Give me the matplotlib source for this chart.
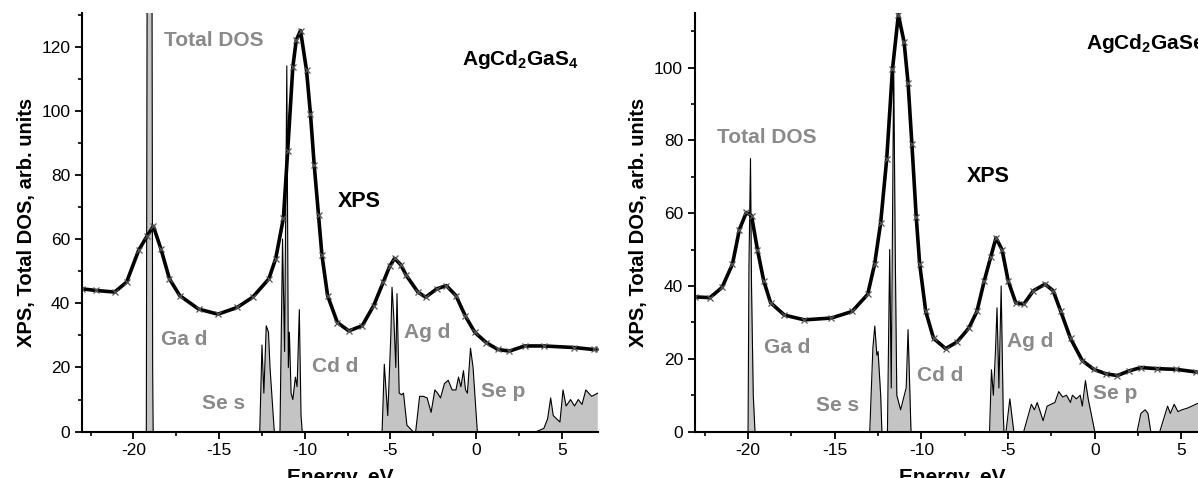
import numpy as np
import matplotlib
matplotlib.use('Agg')
import matplotlib.pyplot as plt
from matplotlib.ticker import MultipleLocator

plt.rcParams['font.family'] = ['Liberation Sans', 'DejaVu Sans']
plt.rcParams['mathtext.fontset'] = 'custom'
plt.rcParams['mathtext.bf'] = 'Liberation Sans:bold'
plt.rcParams['mathtext.rm'] = 'Liberation Sans:bold'
plt.rcParams['mathtext.default'] = 'bf'
plt.rcParams['axes.unicode_minus'] = False

# ---- AgCd2GaS4 (left panel) ----
s_xps_e = [-23.0, -22.2, -21.1, -20.4, -19.7, -19.2, -18.84, -18.4, -17.9, -17.3, -16.2, -15.07,
           -13.95, -13.04, -12.1, -11.7, -11.25, -11.0, -10.7, -10.5, -10.25, -9.9, -9.67, -9.45,
           -9.2, -9.0, -8.67, -8.1, -7.43, -6.65, -5.98, -5.42, -5.05, -4.76, -4.4, -4.08, -3.4,
           -2.95, -2.3, -1.74, -1.18, -0.63, -0.07, 0.6, 1.27, 1.94, 2.83, 3.95, 5.74, 6.85, 7.1]
s_xps_i = [44.5, 44.0, 43.5, 46.6, 56.5, 61.0, 64.0, 57.0, 47.6, 42.4, 38.2, 36.6,
           38.7, 41.9, 47.6, 53.9, 66.5, 87.4, 113.6, 122.0, 125.0, 112.6, 99.0, 83.0,
           67.5, 55.0, 42.4, 34.0, 31.4, 33.0, 39.3, 46.6, 51.5, 54.0, 52.0, 48.7, 43.5,
           41.9, 44.5, 45.5, 42.4, 36.0, 30.9, 27.7, 25.6, 25.1, 26.7, 26.7, 26.2, 25.6, 25.6]

s_dos_e = [-23.0, -19.25, -19.2, -18.92, -18.88, -18.85,
           -12.63, -12.5, -12.39, -12.25, -12.12, -12.03, -11.78,
           -11.45, -11.3, -11.18, -11.05, -10.96, -10.9, -10.8, -10.7, -10.55, -10.45, -10.32, -10.22, -10.15,
           -5.49, -5.36, -5.16, -4.98, -4.91, -4.8, -4.69, -4.62, -4.49, -4.35, -4.24, -4.04, -3.68,
           -3.53, -3.3, -3.08, -2.86, -2.63, -2.41, -2.25, -2.08, -1.85, -1.63, -1.4, -1.18, -1.03,
           -0.89, -0.74, -0.62, -0.51, -0.33, -0.18, 0.07,
           3.5, 3.95, 4.17, 4.35, 4.5, 4.89, 5.07, 5.25, 5.51, 5.74, 5.96, 6.18, 6.4, 6.74, 7.1]
s_dos_i = [0, 0, 150, 150, 20, 0,
           0, 27, 12, 33, 31, 20, 0,
           0, 60, 25, 114, 20, 31, 12, 10, 17, 14, 38, 5, 0,
           0, 21, 5, 30, 45, 35, 20, 43, 12, 11.5, 12, 2, 0,
           0, 11, 11, 10.5, 6, 13, 12, 10.5, 15, 16, 13, 13, 17,
           14, 19, 13, 12, 26, 20, 0,
           0, 1, 4, 10.5, 5, 3, 13, 8, 10, 8, 10, 8.5, 13, 11, 12]

# ---- AgCd2GaSe4 (right panel) ----
se_xps_e = [-23.07, -22.2, -21.5, -20.9, -20.5, -20.1, -19.8, -19.46, -19.1, -18.7, -17.9, -16.75,
            -15.2, -14.0, -13.1, -12.7, -12.35, -12.0, -11.67, -11.33, -11.0, -10.77, -10.55, -10.3,
            -10.1, -9.75, -9.3, -8.6, -7.95, -7.27, -6.8, -6.37, -6.0, -5.7, -5.35, -5.0, -4.56,
            -4.1, -3.54, -2.87, -2.4, -1.96, -1.4, -0.72, -0.05, 0.63, 1.3, 1.99, 2.66, 3.57,
            4.7, 5.82, 6.68]
se_xps_i = [37.0, 36.8, 39.6, 46.0, 55.5, 60.2, 59.3, 50.0, 41.5, 35.4, 32.0, 30.7,
            31.2, 33.0, 37.7, 46.0, 57.4, 75.0, 99.5, 114.5, 107.0, 95.8, 79.0, 59.0,
            46.0, 33.0, 25.6, 22.8, 24.6, 28.4, 33.0, 41.5, 48.0, 53.2, 50.0, 41.5, 35.4,
            35.0, 38.7, 40.5, 38.7, 33.0, 25.6, 19.5, 17.1, 15.9, 15.4, 16.7, 17.6, 17.3,
            17.1, 16.4, 15.7]

se_dos_e = [-23.07, -20.0, -19.95, -19.86, -19.8, -19.7, -19.6,
            -12.98, -12.8, -12.69, -12.57, -12.5, -12.35, -12.28,
            -11.96, -11.83, -11.74, -11.6, -11.5, -11.42, -11.2, -10.88, -10.77, -10.6,
            -6.07, -5.96, -5.85, -5.73, -5.64, -5.53, -5.4, -5.28, -5.24,
            -5.12, -4.9, -4.67,
            -4.1, -3.66, -3.48, -3.32, -2.98, -2.75, -2.53, -2.3, -2.08, -1.85, -1.63, -1.4,
            -1.29, -1.06, -0.84, -0.72, -0.54, -0.38, 0.0,
            2.44, 2.66, 2.9, 3.07, 3.23, 3.75, 4.2, 4.36, 4.58, 4.8, 5.03, 5.37, 5.6, 6.05, 6.68]
se_dos_i = [0, 0, 45, 75, 40, 10, 0,
            0, 23, 29, 21, 22, 10, 0,
            0, 50, 12, 100, 45, 10, 6, 12, 28, 0,
            0, 17, 10, 22, 34, 12, 40, 5, 0,
            0, 9, 0,
            0, 7.5, 6, 8, 3, 7, 7.5, 8, 11, 9.5, 10, 8,
            10, 9, 10, 7, 14, 9, 0,
            0, 5, 6, 5, 0, 0, 7, 5, 7.5, 5.5, 6, 6.5, 7, 8, 8]

gray = '#8a8a8a'

fig = plt.figure(figsize=(11.98, 4.78), dpi=100)
ax1 = fig.add_axes([0.0685, 0.097, 0.4305, 0.876])
ax2 = fig.add_axes([0.580, 0.097, 0.4305, 0.876])


def draw(ax, dos_e, dos_i, xps_e, xps_i, xlim, ylim):
    ax.fill_between(dos_e, dos_i, 0, color='#c4c4c4', lw=0)
    ax.plot(dos_e, dos_i, color='black', lw=0.8)
    ax.plot(xps_e, xps_i, color='black', lw=2.6, marker='x', ms=4.5,
            mec='#555555', mew=0.9)
    ax.set_xlim(*xlim)
    ax.set_ylim(*ylim)
    ax.spines['top'].set_visible(False)
    ax.spines['right'].set_visible(False)
    ax.spines['left'].set_linewidth(1.5)
    ax.spines['bottom'].set_linewidth(1.5)
    ax.xaxis.set_major_locator(MultipleLocator(5))
    ax.xaxis.set_minor_locator(MultipleLocator(2.5))
    ax.yaxis.set_major_locator(MultipleLocator(20))
    ax.yaxis.set_minor_locator(MultipleLocator(10))
    ax.tick_params(which='major', length=5, width=1.3, labelsize=12.5)
    ax.tick_params(which='minor', length=3, width=1.2)
    ax.set_xlabel('Energy, eV', fontsize=15, fontweight='bold', labelpad=7)
    ax.set_ylabel('XPS, Total DOS, arb. units', fontsize=14.5, fontweight='bold')


draw(ax1, s_dos_e, s_dos_i, s_xps_e, s_xps_i, (-23.0, 7.1), (0, 130.5))
draw(ax2, se_dos_e, se_dos_i, se_xps_e, se_xps_i, (-23.07, 6.68), (0, 115))

lab = dict(fontsize=15, fontweight='bold', color=gray)
ax1.text(-18.2, 122, 'Total DOS', va='center', **lab)
ax1.text(-18.4, 28.6, 'Ga d', va='center', **lab)
ax1.text(-16.0, 8.9, 'Se s', va='center', **lab)
ax1.text(-9.6, 20.4, 'Cd d', va='center', **lab)
ax1.text(-4.2, 30.9, 'Ag d', va='center', **lab)
ax1.text(0.27, 12.6, 'Se p', va='center', **lab)
ax1.text(-8.1, 71.7, 'XPS', va='center', fontsize=15.5, fontweight='bold')
ax1.text(-0.85, 116, r'AgCd$_2$GaS$_4$', va='center', fontsize=15, fontweight='bold')

ax2.text(-21.8, 80.8, 'Total DOS', va='center', **lab)
ax2.text(-19.1, 23, 'Ga d', va='center', **lab)
ax2.text(-16.1, 7.3, 'Se s', va='center', **lab)
ax2.text(-10.25, 15.3, 'Cd d', va='center', **lab)
ax2.text(-5.06, 24.8, 'Ag d', va='center', **lab)
ax2.text(-0.1, 10.6, 'Se p', va='center', **lab)
ax2.text(-7.4, 70, 'XPS', va='center', fontsize=15.5, fontweight='bold')
ax2.text(-0.5, 106.6, r'AgCd$_2$GaSe$_4$', va='center', fontsize=15,
         fontweight='bold', clip_on=False)

fig.savefig('out.png', dpi=100)
